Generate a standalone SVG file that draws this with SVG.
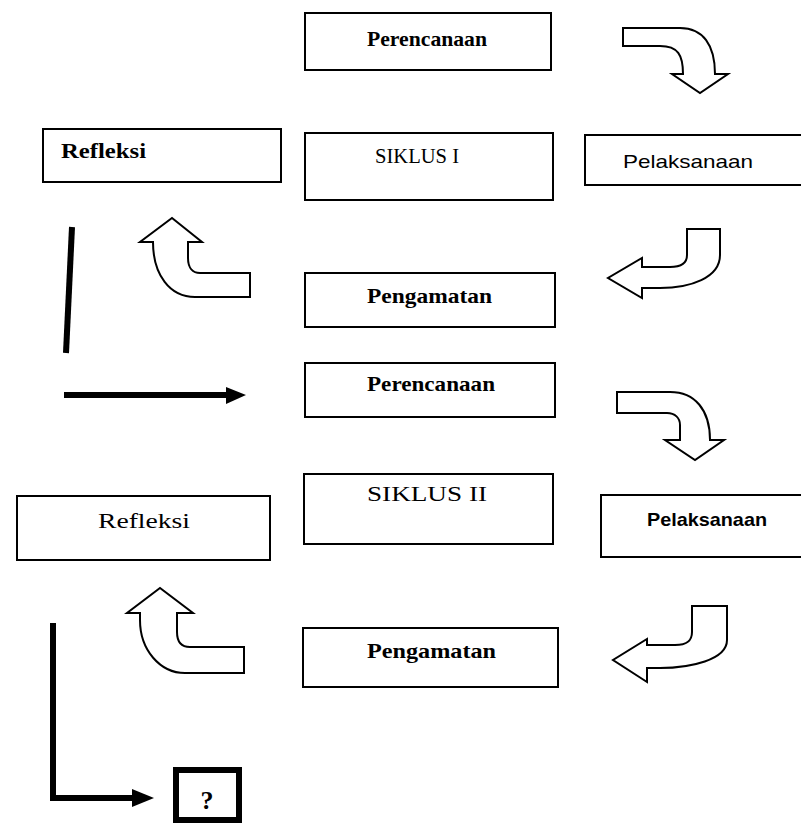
<svg xmlns="http://www.w3.org/2000/svg" width="801" height="825" viewBox="0 0 801 825">
<style>
.box{fill:#fff;stroke:#000;stroke-width:2}
.blk{fill:#fff;stroke:#000;stroke-width:2;stroke-linejoin:miter}
.t{font-family:"Liberation Serif","Times New Roman",serif;font-size:22px;fill:#000}
.b{font-weight:bold}
.s{font-family:"Liberation Sans",Arial,sans-serif;font-size:19px;font-weight:bold;fill:#000}
.thick{stroke:#000;stroke-width:6;fill:none}
</style>
<rect width="801" height="825" fill="#fff"/>
<g id="perencanaan1"><rect class="box" x="305" y="13" width="246" height="57"/><text class="t b" x="367" y="46" textLength="120" lengthAdjust="spacingAndGlyphs">Perencanaan</text></g>
<g id="siklus1"><rect class="box" x="305" y="133" width="248" height="67"/><text class="t" x="375" y="163" textLength="84" lengthAdjust="spacingAndGlyphs">SIKLUS I</text></g>
<g id="pelaksanaan1"><rect class="box" x="585" y="135" width="220" height="50"/><text class="s" x="623" y="168" textLength="130" lengthAdjust="spacingAndGlyphs" style="font-weight:normal">Pelaksanaan</text></g>
<g id="refleksi1"><rect class="box" x="43" y="129" width="238" height="53"/><text class="t b" x="61" y="158" textLength="85" lengthAdjust="spacingAndGlyphs">Refleksi</text></g>
<g id="pengamatan1"><rect class="box" x="305" y="273" width="250" height="54"/><text class="t b" x="367" y="303" textLength="125" lengthAdjust="spacingAndGlyphs">Pengamatan</text></g>
<g id="perencanaan2"><rect class="box" x="305" y="363" width="250" height="54"/><text class="t b" x="367" y="391" textLength="128" lengthAdjust="spacingAndGlyphs">Perencanaan</text></g>
<g id="siklus2"><rect class="box" x="304" y="474" width="249" height="70"/><text class="t" x="367" y="501" textLength="120" lengthAdjust="spacingAndGlyphs">SIKLUS II</text></g>
<g id="refleksi2"><rect class="box" x="17" y="496" width="253" height="64"/><text class="t" x="98" y="528" textLength="92" lengthAdjust="spacingAndGlyphs">Refleksi</text></g>
<g id="pelaksanaan2"><rect class="box" x="601" y="495" width="204" height="62"/><text class="s" x="647" y="526" textLength="120" lengthAdjust="spacingAndGlyphs">Pelaksanaan</text></g>
<g id="pengamatan2"><rect class="box" x="303" y="628" width="255" height="59"/><text class="t b" x="367" y="658" textLength="129" lengthAdjust="spacingAndGlyphs">Pengamatan</text></g>
<g id="question"><rect x="176" y="770" width="63" height="50" fill="#fff" stroke="#000" stroke-width="6"/><text class="t b" x="207" y="809" text-anchor="middle" style="font-size:26px">?</text></g>
<g id="connectors">
<path class="blk" d="M623 28 L680 28 C703 28 715 45 715 74 L728 74 L700 93 L672 74 L683 74 C683 55 678 46 660 46 L623 46 Z"/>
<path class="blk" d="M687 229 L720 229 L720 255 C720 278 690 288 660 288 L642 288 L642 298 L608 278 L642 258 L642 267 L670 267 C683 267 687 262 687 255 Z"/>
<path class="blk" d="M250 273 L250 297 L195 297 C170 297 153 275 153 242 L140 242 L172 218 L202 242 L188 242 L188 258 C188 268 193 273 200 273 Z"/>
<path class="blk" d="M617 392 L670 392 C695 392 710 410 710 440 L724 440 L695 460 L665 440 L680 440 L680 425 C680 418 675 413 667 413 L617 413 Z"/>
<path class="blk" d="M692 606 L727 606 L727 640 C727 660 690 668 660 668 L647 668 L647 682 L613 660 L647 639 L647 645 L675 645 C688 645 692 640 692 632 Z"/>
<path class="blk" d="M244 647 L244 673 L185 673 C160 673 140 650 140 620 L140 613 L127 613 L160 588 L193 613 L177 613 L177 632 C177 642 182 647 190 647 Z"/>
<line class="thick" x1="72" y1="227" x2="66" y2="353"/>
<line class="thick" x1="64" y1="395" x2="228" y2="395"/>
<path d="M226 387 L246 395 L226 404 Z" fill="#000"/>
<polyline class="thick" points="53,623 53,798 134,798"/>
<path d="M132 789 L154 798 L132 807 Z" fill="#000"/>
</g>
</svg>
